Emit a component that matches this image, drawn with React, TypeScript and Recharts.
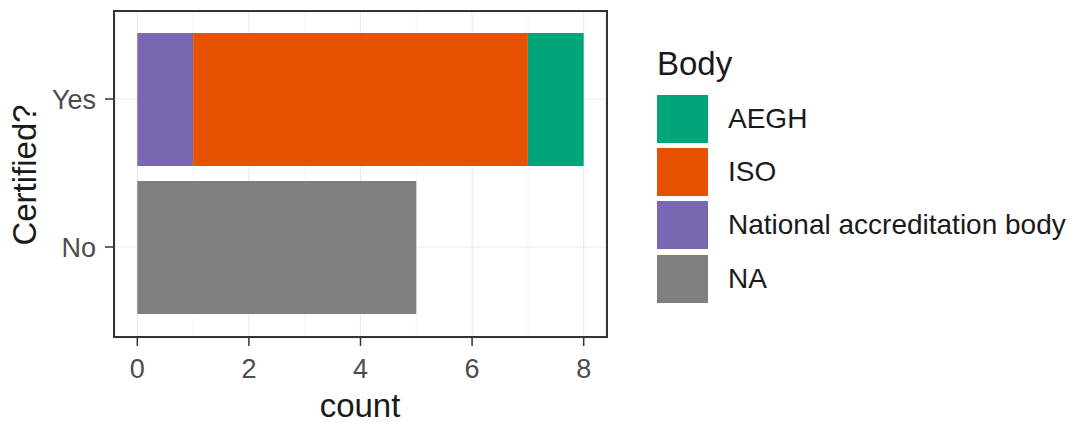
import { BarChart, Bar, XAxis, YAxis, CartesianGrid } from 'recharts';

const certified = ['Yes', 'No'];
const national = [1, 0];
const iso = [6, 0];
const aegh = [1, 0];
const na = [0, 5];

const xTicks = [0, 2, 4, 6, 8];
const minorTicks = [1, 3, 5, 7];

// legend order as in the reference (top to bottom)
const legendItems = [
  { name: 'AEGH', color: '#00A67A' },
  { name: 'ISO', color: '#E65200' },
  { name: 'National accreditation body', color: '#7A67B3' },
  { name: 'NA', color: '#7F7F7F' },
];

const chartData = certified.map((c, i) => ({
  cert: c,
  national: national[i],
  iso: iso[i],
  aegh: aegh[i],
  na: na[i],
}));

const FONT = '"Liberation Sans", Arial, sans-serif';

function YTitle() {
  return (
    <text x={36} y={175} transform="rotate(-90 36 175)" textAnchor="middle" fontSize={33} fill="#1a1a1a" fontFamily={FONT}>
      Certified?
    </text>
  );
}

function XTitle() {
  return (
    <text x={360} y={417} textAnchor="middle" fontSize={33} fill="#1a1a1a" fontFamily={FONT}>
      count
    </text>
  );
}

function BodyLegend() {
  return (
    <div style={{ position: 'absolute', left: 657, top: 44, fontFamily: FONT, color: '#1a1a1a' }}>
      <div style={{ fontSize: 33, lineHeight: '40px', height: 40, marginBottom: 8 }}>Body</div>
      {legendItems.map(item => (
        <div key={item.name} style={{ display: 'flex', alignItems: 'center', height: 53.3 }}>
          <div style={{ width: 51, height: 48, background: item.color }} />
          <span style={{ fontSize: 28, marginLeft: 20, whiteSpace: 'nowrap' }}>{item.name}</span>
        </div>
      ))}
    </div>
  );
}

export default function App() {
  return (
    <div style={{ position: 'absolute', left: 0, top: 0, width: 1078, height: 423, background: '#fff' }}>
      <BarChart
        width={1078}
        height={423}
        data={chartData}
        layout="vertical"
        margin={{ top: 12, right: 472, left: 0, bottom: 0 }}
      >
        {/* minor grid first, then major */}
        <CartesianGrid horizontal={false} verticalValues={minorTicks} stroke="#F2F2F2" strokeWidth={0.8} />
        <CartesianGrid stroke="#EBEBEB" strokeWidth={1.2} />
        <XAxis
          type="number"
          domain={[-0.4, 8.4]}
          ticks={xTicks}
          allowDataOverflow
          axisLine={false}
          tickSize={8}
          tickMargin={13}
          tickLine={{ stroke: '#333', strokeWidth: 1.5 }}
          tick={{ fontSize: 27, fill: '#4D4D4D', fontFamily: FONT }}
          height={85}
          label={<XTitle />}
        />
        <YAxis
          type="category"
          dataKey="cert"
          width={115}
          padding={{ top: 13, bottom: 17 }}
          axisLine={false}
          tickSize={10}
          tickMargin={9}
          tickLine={{ stroke: '#333', strokeWidth: 1.5 }}
          tick={{ fontSize: 27, fill: '#4D4D4D', fontFamily: FONT }}
          label={<YTitle />}
        />
        <Bar dataKey="national" stackId="a" fill="#7A67B3" barSize={133} isAnimationActive={false} />
        <Bar dataKey="iso" stackId="a" fill="#E65200" barSize={133} isAnimationActive={false} />
        <Bar dataKey="aegh" stackId="a" fill="#00A67A" barSize={133} isAnimationActive={false} />
        <Bar dataKey="na" stackId="a" fill="#7F7F7F" barSize={133} isAnimationActive={false} />
      </BarChart>
      <BodyLegend />
      <div
        style={{
          position: 'absolute',
          left: 113,
          top: 10,
          width: 495,
          height: 328,
          boxSizing: 'border-box',
          border: '2px solid #333',
          pointerEvents: 'none',
        }}
      />
    </div>
  );
}
